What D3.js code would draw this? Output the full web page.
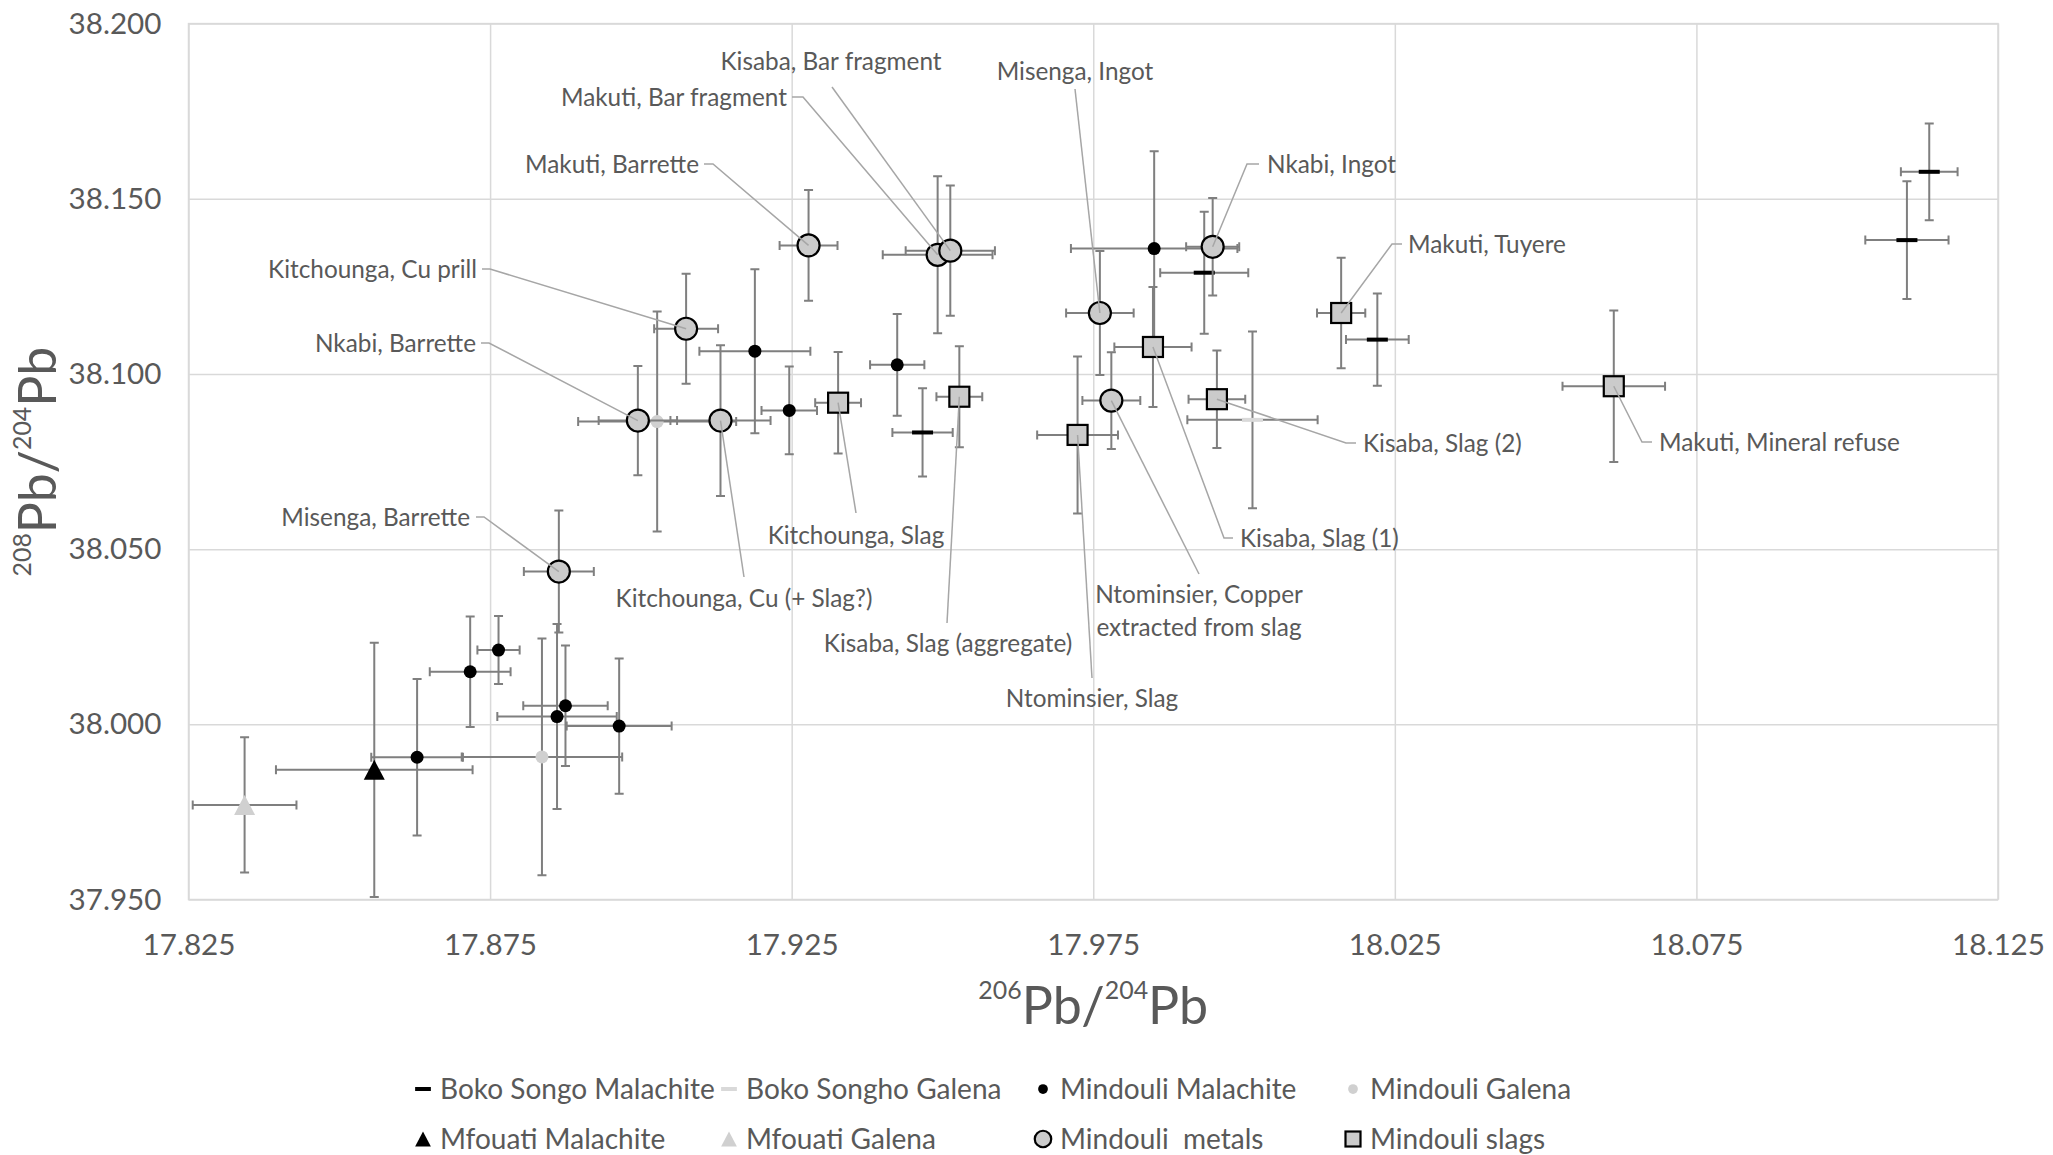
<!DOCTYPE html>
<html>
<head>
<meta charset="utf-8">
<script src="https://cdn.jsdelivr.net/npm/d3@7"></script>
<style>
  body { margin: 0; background: #fff; }
  svg { display: block; }
</style>
</head>
<body>
<div id="chart"></div>
<script>
// each row: [206Pb/204Pb, 208Pb/204Pb, +/- x, +/- y]
const bokoSongoMalachite = [
  [17.9467, 38.0833, 0.0050, 0.0126],
  [17.9934, 38.1289, 0.0073, 0.0174],
  [18.0221, 38.1098, 0.0052, 0.0132],
  [18.1136, 38.1577, 0.0047, 0.0138],
  [18.1099, 38.1382, 0.0069, 0.0168]
];
const bokoSonghoGalena = [
  [18.0014, 38.0869, 0.0108, 0.0252]
];
const mindouliMalachite = [
  [17.9189, 38.1065, 0.0092, 0.0234],
  [17.9246, 38.0896, 0.0046, 0.0125],
  [17.9425, 38.1026, 0.0045, 0.0145],
  [17.9851, 38.1358, 0.0138, 0.0278],
  [17.8764, 38.0212, 0.0035, 0.0097],
  [17.8717, 38.0150, 0.0067, 0.0158],
  [17.8629, 37.9906, 0.0076, 0.0223],
  [17.8875, 38.0053, 0.0070, 0.0172],
  [17.8861, 38.0022, 0.0099, 0.0264],
  [17.8964, 37.9995, 0.0087, 0.0193]
];
const mindouliGalena = [
  [17.9027, 38.0864, 0.0131, 0.0314],
  [17.8836, 37.9907, 0.0133, 0.0338]
];
const mfouatiMalachite = [
  [17.8558, 37.9870, 0.0163, 0.0363]
];
const mfouatiGalena = [
  [17.8343, 37.9770, 0.0086, 0.0193]
];
// metals and slags carry the sample name as a fifth column
const mindouliMetals = [
  [17.9278, 38.1367, 0.0048, 0.0158, 'Makuti, Barrette'],
  [17.9492, 38.1340, 0.0091, 0.0224, 'Makuti, Bar fragment'],
  [17.9513, 38.1352, 0.0074, 0.0186, 'Kisaba, Bar fragment'],
  [17.9075, 38.1129, 0.0053, 0.0157, 'Kitchounga, Cu prill'],
  [17.8995, 38.0867, 0.0065, 0.0156, 'Nkabi, Barrette'],
  [17.9132, 38.0867, 0.0083, 0.0215, 'Kitchounga, Cu (+ Slag?)'],
  [17.9948, 38.1363, 0.0044, 0.0139, 'Nkabi, Ingot'],
  [17.9761, 38.1174, 0.0056, 0.0177, 'Misenga, Ingot'],
  [17.9780, 38.0924, 0.0048, 0.0138, 'Ntominsier, Copper extracted from slag'],
  [17.8864, 38.0436, 0.0058, 0.0174, 'Misenga, Barrette']
];
const mindouliSlags = [
  [17.9327, 38.0918, 0.0038, 0.0145, 'Kitchounga, Slag'],
  [17.9528, 38.0935, 0.0038, 0.0144, 'Kisaba, Slag (aggregate)'],
  [17.9849, 38.1077, 0.0064, 0.0171, 'Kisaba, Slag (1)'],
  [17.9724, 38.0826, 0.0067, 0.0224, 'Ntominsier, Slag'],
  [17.9955, 38.0928, 0.0047, 0.0139, 'Kisaba, Slag (2)'],
  [18.0161, 38.1174, 0.0040, 0.0158, 'Makuti, Tuyere'],
  [18.0613, 38.0965, 0.0085, 0.0216, 'Makuti, Mineral refuse']
];

const xTicks = [17.825, 17.875, 17.925, 17.975, 18.025, 18.075, 18.125];
const yTicks = [37.95, 38.0, 38.05, 38.1, 38.15, 38.2];

const series = [
  { name: 'Boko Songo Malachite', data: bokoSongoMalachite, marker: 'dash', fill: '#000' },
  { name: 'Boko Songho Galena', data: bokoSonghoGalena, marker: 'dash', fill: '#d9d9d9' },
  { name: 'Mindouli Malachite', data: mindouliMalachite, marker: 'dot', fill: '#000' },
  { name: 'Mindouli Galena', data: mindouliGalena, marker: 'dot', fill: '#d0d0d0' },
  { name: 'Mfouati Malachite', data: mfouatiMalachite, marker: 'triangle', fill: '#000' },
  { name: 'Mfouati Galena', data: mfouatiGalena, marker: 'triangle', fill: '#d0d0d0' },
  { name: 'Mindouli  metals', data: mindouliMetals, marker: 'circle', fill: '#cbcbcb', stroke: '#000' },
  { name: 'Mindouli slags', data: mindouliSlags, marker: 'square', fill: '#cbcbcb', stroke: '#000' }
];

// where each data label sits (pixels) and how its leader line leaves it
const labelLayout = {
  'Makuti, Barrette': { x: 699, y: 164, anchor: 'end', stub: [704, 713] },
  'Makuti, Bar fragment': { x: 787, y: 97, anchor: 'end', stub: [792, 803] },
  'Kisaba, Bar fragment': { x: 831, y: 61, anchor: 'middle', from: [832, 87] },
  'Kitchounga, Cu prill': { x: 477, y: 269, anchor: 'end', stub: [482, 490] },
  'Nkabi, Barrette': { x: 476, y: 343, anchor: 'end', stub: [481, 489] },
  'Misenga, Barrette': { x: 470, y: 517, anchor: 'end', stub: [476, 484] },
  'Kitchounga, Cu (+ Slag?)': { x: 744, y: 598, anchor: 'middle', from: [744, 577] },
  'Kitchounga, Slag': { x: 856, y: 535, anchor: 'middle', from: [856, 513] },
  'Kisaba, Slag (aggregate)': { x: 948, y: 643, anchor: 'middle', from: [947, 623] },
  'Ntominsier, Slag': { x: 1092, y: 698, anchor: 'middle', from: [1092, 678] },
  'Ntominsier, Copper extracted from slag': { x: 1199, y: 594, anchor: 'middle', from: [1199, 574],
    lines: ['Ntominsier, Copper', 'extracted from slag'] },
  'Kisaba, Slag (1)': { x: 1240, y: 538, anchor: 'start', stub: [1233, 1224] },
  'Kisaba, Slag (2)': { x: 1363, y: 443, anchor: 'start', stub: [1356, 1346] },
  'Makuti, Tuyere': { x: 1408, y: 244, anchor: 'start', stub: [1402, 1392] },
  'Makuti, Mineral refuse': { x: 1659, y: 442, anchor: 'start', stub: [1652, 1642] },
  'Nkabi, Ingot': { x: 1267, y: 164, anchor: 'start', stub: [1259, 1247] },
  'Misenga, Ingot': { x: 1075, y: 71, anchor: 'middle', from: [1075, 89] }
};

const width = 2053;
const height = 1155;
const margin = { top: 23.6, right: 55, bottom: 255.5, left: 188.5 };
const FONT = 'Lato';
const TEXT = '#595959';

const svg = d3.select('#chart').append('svg')
  .attr('width', width)
  .attr('height', height);

function textWidth(text, size) {
  const t = svg.append('text')
    .attr('x', -9999).attr('y', -9999)
    .attr('font-family', FONT)
    .attr('font-size', size)
    .style('white-space', 'pre')
    .text(text);
  const w = t.node().getComputedTextLength();
  t.remove();
  return w;
}

// fit font sizes to the widths measured on the reference
const labelSize = 100 * 174 / textWidth('Makuti, Barrette', 100);
const tickSize = 100 * 93 / textWidth('17.975', 100);
const legendSize = 100 * 275 / textWidth('Boko Songo Malachite', 100);
const titleW = textWidth('Pb/Pb', 100) + textWidth('206204', 48);
const titleSize = 100 * 230 / titleW;
const supSize = titleSize * 0.48;
const supRise = 25;

const x = d3.scaleLinear()
  .domain([17.825, 18.125])
  .range([margin.left, width - margin.right]);
const y = d3.scaleLinear()
  .domain([37.95, 38.2])
  .range([height - margin.bottom, margin.top]);

const plotW = width - margin.left - margin.right;
const plotH = height - margin.top - margin.bottom;

// gridlines
svg.append('g')
  .attr('class', 'xgrid')
  .attr('transform', `translate(0, ${height - margin.bottom})`)
  .call(d3.axisBottom(x).tickValues(xTicks).tickSize(-plotH).tickFormat(''))
  .call(g => g.select('.domain').remove())
  .call(g => g.selectAll('line').attr('stroke', '#d9d9d9').attr('stroke-width', 1.5));

svg.append('g')
  .attr('class', 'ygrid')
  .attr('transform', `translate(${margin.left}, 0)`)
  .call(d3.axisLeft(y).tickValues(yTicks).tickSize(-plotW).tickFormat(''))
  .call(g => g.select('.domain').remove())
  .call(g => g.selectAll('line').attr('stroke', '#d9d9d9').attr('stroke-width', 1.5));

svg.append('rect')
  .attr('x', margin.left)
  .attr('y', margin.top)
  .attr('width', plotW)
  .attr('height', plotH)
  .attr('fill', 'none')
  .attr('stroke', '#d9d9d9')
  .attr('stroke-width', 1.5);

// tick labels
svg.append('g')
  .attr('transform', `translate(0, ${height - margin.bottom})`)
  .call(d3.axisBottom(x).tickValues(xTicks).tickSize(0).tickPadding(55 - 0.71 * tickSize).tickFormat(d3.format('.3f')))
  .call(g => g.select('.domain').remove())
  .call(g => g.selectAll('text').attr('fill', TEXT).attr('font-family', FONT).attr('font-size', tickSize));

svg.append('g')
  .attr('transform', `translate(${margin.left}, 0)`)
  .call(d3.axisLeft(y).tickValues(yTicks).tickSize(0).tickPadding(27).tickFormat(d3.format('.3f')))
  .call(g => g.select('.domain').remove())
  .call(g => g.selectAll('text').attr('fill', TEXT).attr('font-family', FONT).attr('font-size', tickSize));

// axis titles with superscript mass numbers
function isotopeTitle(sel, a, b) {
  sel.attr('font-family', FONT).attr('fill', TEXT).attr('text-anchor', 'middle');
  sel.append('tspan').attr('font-size', supSize).attr('dy', -supRise).text(a);
  sel.append('tspan').attr('font-size', titleSize).attr('dy', supRise).text('Pb/');
  sel.append('tspan').attr('font-size', supSize).attr('dy', -supRise).text(b);
  sel.append('tspan').attr('font-size', titleSize).attr('dy', supRise).text('Pb');
}

svg.append('text')
  .attr('x', margin.left + plotW / 2)
  .attr('y', 1024)
  .call(isotopeTitle, '206', '204');

svg.append('text')
  .attr('transform', `translate(56, ${margin.top + plotH / 2}) rotate(-90)`)
  .call(isotopeTitle, '208', '204');

// markers
function drawMarker(g, s, cx, cy, scale) {
  const k = scale || 1;
  if (s.marker === 'dash') {
    g.append('rect').attr('x', cx - 10.5 * k).attr('y', cy - 2).attr('width', 21 * k).attr('height', 4)
      .attr('fill', s.fill);
  } else if (s.marker === 'dot') {
    g.append('circle').attr('cx', cx).attr('cy', cy).attr('r', 6.5 * k).attr('fill', s.fill);
  } else if (s.marker === 'triangle') {
    const w = 21 * k, h = 20 * k;
    g.append('path')
      .attr('d', `M${cx},${cy - h / 2}L${cx + w / 2},${cy + h / 2}L${cx - w / 2},${cy + h / 2}Z`)
      .attr('fill', s.fill);
  } else if (s.marker === 'circle') {
    g.append('circle').attr('cx', cx).attr('cy', cy).attr('r', 11 * k)
      .attr('fill', s.fill).attr('stroke', s.stroke).attr('stroke-width', 2.2);
  } else if (s.marker === 'square') {
    g.append('rect').attr('x', cx - 10 * k).attr('y', cy - 10 * k).attr('width', 20 * k).attr('height', 20 * k)
      .attr('fill', s.fill).attr('stroke', s.stroke).attr('stroke-width', 2.2);
  }
}

const cap = 4.5;
series.forEach(s => {
  const g = svg.append('g').attr('class', 'series');
  const bars = g.append('g')
    .attr('stroke', '#7f7f7f')
    .attr('stroke-width', 2)
    .attr('fill', 'none');
  s.data.forEach(d => {
    const px = x(d[0]), py = y(d[1]);
    const x0 = x(d[0] - d[2]), x1 = x(d[0] + d[2]);
    const y0 = y(d[1] - d[3]), y1 = y(d[1] + d[3]);
    bars.append('path').attr('d',
      `M${x0},${py}H${x1}M${x0},${py - cap}V${py + cap}M${x1},${py - cap}V${py + cap}` +
      `M${px},${y0}V${y1}M${px - cap},${y0}H${px + cap}M${px - cap},${y1}H${px + cap}`);
  });
  s.data.forEach(d => drawMarker(g, s, x(d[0]), y(d[1])));
});

// data labels with leader lines
const labelled = mindouliMetals.concat(mindouliSlags);
const leaders = svg.append('g')
  .attr('stroke', '#a6a6a6')
  .attr('stroke-width', 1.5)
  .attr('fill', 'none');
const labels = svg.append('g')
  .attr('font-family', FONT)
  .attr('font-size', labelSize)
  .attr('fill', TEXT);

labelled.forEach(d => {
  const lay = labelLayout[d[4]];
  if (!lay) return;
  const px = x(d[0]), py = y(d[1]);
  if (lay.stub) {
    leaders.append('path').attr('d', `M${lay.stub[0]},${lay.y}H${lay.stub[1]}L${px},${py}`);
  } else {
    leaders.append('path').attr('d', `M${lay.from[0]},${lay.from[1]}L${px},${py}`);
  }
  const lines = lay.lines || [d[4]];
  const lineGap = 33;
  lines.forEach((line, i) => {
    labels.append('text')
      .attr('x', lay.x)
      .attr('y', lay.y + i * lineGap)
      .attr('dy', '0.35em')
      .attr('text-anchor', lay.anchor)
      .text(line);
  });
});

// legend
const legendCols = [440, 746, 1060, 1370];
const legendRows = [1089, 1139];
const legend = svg.append('g').attr('class', 'legend');
series.forEach((s, i) => {
  const tx = legendCols[i % 4];
  const ty = legendRows[Math.floor(i / 4)];
  const item = legend.append('g');
  drawMarker(item, s, tx - 17, ty, 0.75);
  item.append('text')
    .attr('x', tx)
    .attr('y', ty)
    .attr('dy', '0.35em')
    .attr('font-family', FONT)
    .attr('font-size', legendSize)
    .attr('fill', TEXT)
    .style('white-space', 'pre')
    .text(s.name);
});
</script>
</body>
</html>
